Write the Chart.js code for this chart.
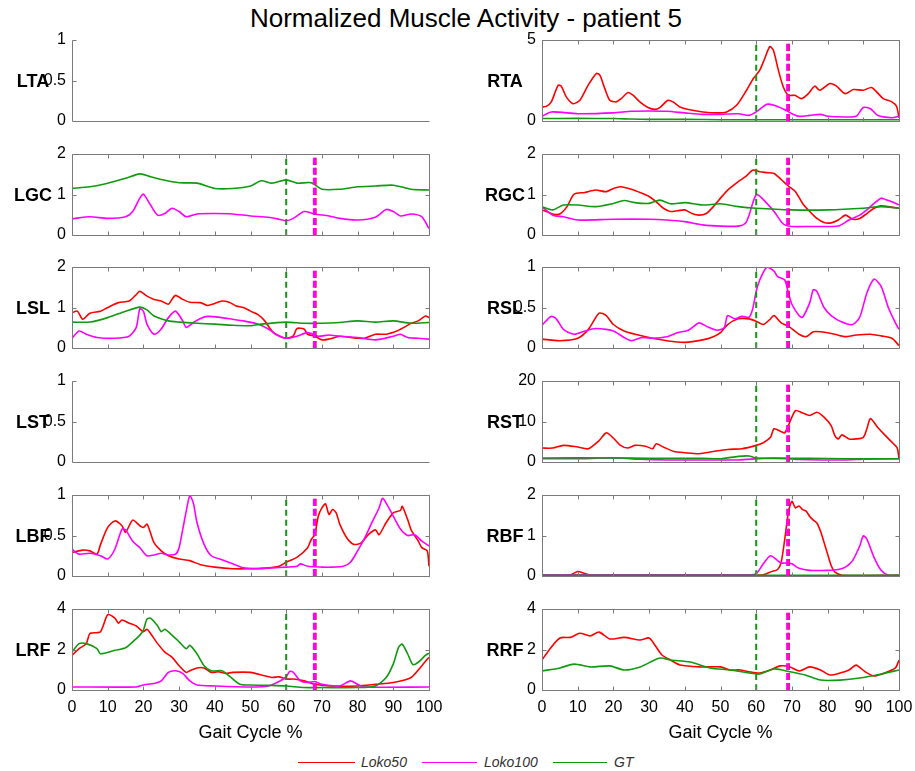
<!DOCTYPE html>
<html><head><meta charset="utf-8">
<script src="https://cdn.jsdelivr.net/npm/chart.js@4/dist/chart.umd.min.js"></script>
<style>
html,body{margin:0;padding:0;background:#fff;}
body{width:915px;height:771px;position:relative;overflow:hidden;font-family:"Liberation Sans",Arial,sans-serif;}
canvas{position:absolute;}
.ylab{position:absolute;font-weight:bold;font-size:18px;color:#000;width:60px;text-align:center;line-height:20px;}
#title{position:absolute;left:116px;width:700px;top:3px;text-align:center;font-size:26px;color:#000;}
.lgl{position:absolute;height:1px;}
.lgt{position:absolute;font-style:italic;font-size:14px;color:#333;line-height:16px;}
</style></head>
<body>
<div id="title">Normalized Muscle Activity - patient 5</div>
<div class="lgl" style="left:298px;top:762px;width:57px;background:#ff0000"></div>
<div class="lgt" style="left:361px;top:754px">Loko50</div>
<div class="lgl" style="left:422px;top:762px;width:55px;background:#ff00ff"></div>
<div class="lgt" style="left:484px;top:754px">Loko100</div>
<div class="lgl" style="left:553px;top:762px;width:54px;background:#109a10"></div>
<div class="lgt" style="left:614px;top:754px">GT</div>
<script>
// ---------------- data (x = gait cycle %, y = normalized activity) ----------------
const xTicks = [0,10,20,30,40,50,60,70,80,90,100];
const toeOffGT = 60;
const toeOffLeft = 67.9;
const toeOffRight = 68.8;

const RTA_Loko50 = [[0,0.87],[1.2,0.9],[2.6,1.18],[4.5,2.2],[5.4,2.15],[6.8,1.49],[8.7,1.07],[10.6,1.28],[12.9,2.2],[15.2,2.93],[16.2,2.83],[17.6,2.0],[19,1.28],[20.8,1.18],[22.2,1.38],[24.1,1.76],[25.5,1.59],[27.4,1.18],[29.7,0.83],[31.6,0.72],[33,0.83],[35.3,1.28],[36.7,1.18],[38.6,0.87],[41.4,0.7],[45.1,0.56],[48.9,0.5],[51.7,0.56],[54.5,0.97],[57.3,1.9],[59.2,2.62],[61,3.14],[62.4,3.86],[63.8,4.59],[64.8,4.38],[66.2,3.14],[67.6,2.1],[69,1.59],[70.8,1.59],[72.7,1.38],[74.6,1.69],[76.4,2.15],[77.8,1.9],[80.7,2.31],[82.5,2.15],[84.9,1.69],[87.2,1.94],[90,1.9],[92.3,2.07],[94.2,1.69],[95.6,1.38],[98,1.18],[99.3,0.91],[100,0.2]];
const RTA_Loko100 = [[0,0.29],[2.6,0.56],[10,0.45],[20,0.5],[25,0.6],[30,0.62],[35,0.6],[40,0.5],[45,0.41],[50,0.41],[55,0.45],[58,0.35],[60,0.56],[63,1.03],[65,0.97],[68,0.7],[70,0.45],[72,0.29],[75,0.35],[78,0.41],[80,0.29],[85,0.25],[88,0.29],[90,0.83],[92,0.76],[94,0.35],[98,0.2],[100,0.29]];
const RTA_GT = [[0,0.15],[10,0.16],[20,0.15],[25,0.12],[30,0.1],[40,0.1],[50,0.08],[60,0.08],[70,0.08],[80,0.08],[90,0.08],[100,0.08]];

const LGC_Loko100 = [[0,0.4],[5,0.45],[10,0.41],[15,0.45],[17,0.58],[19,0.91],[20,1.01],[22,0.74],[24,0.49],[26,0.53],[28,0.66],[30,0.58],[32,0.45],[35,0.52],[40,0.53],[45,0.52],[50,0.47],[55,0.44],[58,0.39],[60,0.35],[62,0.41],[65,0.58],[68,0.52],[72,0.47],[75,0.41],[80,0.37],[85,0.44],[88,0.63],[90,0.58],[92,0.47],[95,0.52],[98,0.45],[100,0.16]];
const LGC_GT = [[0,1.15],[5,1.19],[10,1.28],[15,1.4],[19,1.51],[22,1.44],[25,1.37],[30,1.29],[35,1.28],[40,1.15],[45,1.15],[50,1.21],[53,1.34],[56,1.28],[60,1.36],[63,1.28],[67,1.29],[70,1.13],[75,1.13],[80,1.19],[85,1.21],[90,1.23],[95,1.13],[100,1.11]];

const RGC_Loko50 = [[0,0.62],[3,0.52],[5,0.52],[7,0.7],[9,1.01],[12,1.05],[15,1.11],[18,1.07],[20,1.15],[22,1.19],[25,1.13],[28,1.03],[30,0.95],[32,0.82],[34,0.66],[36,0.58],[38,0.6],[40,0.62],[42,0.53],[44,0.49],[46,0.53],[48,0.7],[50,0.91],[52,1.11],[55,1.32],[57,1.44],[59,1.6],[61,1.56],[63,1.54],[65,1.52],[67,1.37],[69,1.21],[71,1.07],[73,0.78],[75,0.58],[77,0.41],[79,0.31],[81,0.3],[83,0.37],[85,0.49],[87,0.39],[89,0.41],[91,0.53],[93,0.66],[95,0.72],[97,0.7],[100,0.66]];
const RGC_Loko100 = [[0,0.7],[3,0.49],[6,0.45],[10,0.37],[20,0.39],[30,0.39],[35,0.37],[40,0.33],[45,0.25],[50,0.22],[55,0.22],[57,0.29],[58,0.49],[59,0.78],[60,0.99],[61,0.96],[63,0.78],[65,0.58],[67,0.33],[68,0.25],[70,0.21],[75,0.21],[80,0.21],[83,0.22],[86,0.37],[89,0.49],[91,0.62],[93,0.78],[95,0.91],[96,0.88],[98,0.82],[100,0.74]];
const RGC_GT = [[0,0.7],[3,0.62],[6,0.74],[10,0.74],[15,0.7],[20,0.78],[23,0.85],[26,0.8],[30,0.78],[33,0.86],[36,0.77],[40,0.8],[45,0.74],[50,0.77],[55,0.7],[60,0.66],[70,0.62],[80,0.62],[90,0.66],[95,0.7],[100,0.66]];

const LSL_Loko50 = [[0,0.87],[1.5,0.91],[3,0.71],[5,0.86],[8,0.91],[10,1.0],[13,1.12],[16,1.16],[18,1.32],[19,1.4],[21,1.28],[23,1.2],[25,1.16],[27,1.08],[28,1.2],[29,1.3],[31,1.2],[33,1.13],[36,1.12],[38,1.05],[40,1.1],[42,1.16],[44,1.13],[46,1.04],[48,1.0],[50,0.91],[52,0.83],[54,0.67],[56,0.42],[58,0.3],[60,0.24],[62,0.3],[63,0.48],[65,0.47],[66,0.34],[68,0.29],[70,0.2],[72,0.22],[75,0.29],[78,0.26],[80,0.24],[82,0.24],[85,0.34],[88,0.34],[91,0.42],[93,0.51],[95,0.61],[97,0.67],[99,0.79],[100,0.75]];
const LSL_Loko100 = [[0,0.24],[2,0.42],[4,0.34],[7,0.26],[12,0.24],[16,0.29],[18,0.51],[19,0.97],[20,0.91],[21,0.59],[23,0.34],[25,0.47],[27,0.75],[29,0.91],[31,0.67],[32,0.51],[34,0.63],[36,0.73],[38,0.78],[42,0.75],[45,0.71],[48,0.67],[52,0.59],[55,0.47],[57,0.34],[60,0.24],[63,0.29],[66,0.38],[69,0.29],[72,0.32],[75,0.29],[80,0.26],[85,0.2],[90,0.29],[92,0.34],[94,0.26],[97,0.24],[100,0.22]];
const LSL_GT = [[0,0.64],[5,0.64],[10,0.75],[15,0.91],[19,1.01],[21,0.94],[23,0.79],[27,0.67],[30,0.64],[35,0.61],[40,0.59],[45,0.56],[50,0.55],[53,0.59],[60,0.64],[65,0.61],[70,0.61],[75,0.63],[80,0.67],[85,0.64],[90,0.67],[95,0.61],[100,0.63]];

const RSL_Loko50 = [[0,0.11],[5,0.09],[10,0.12],[13,0.23],[16,0.43],[18,0.4],[20,0.29],[23,0.21],[27,0.16],[30,0.13],[35,0.09],[40,0.07],[45,0.1],[48,0.14],[50,0.19],[52,0.29],[55,0.36],[58,0.36],[60,0.33],[62,0.29],[64,0.36],[65,0.4],[67,0.31],[69,0.27],[72,0.17],[74,0.14],[76,0.2],[78,0.2],[82,0.17],[85,0.14],[88,0.16],[92,0.17],[95,0.15],[98,0.12],[100,0.03]];
const RSL_Loko100 = [[0,0.28],[2.5,0.39],[4,0.36],[6,0.23],[9,0.17],[12,0.21],[15,0.24],[18,0.23],[20,0.21],[23,0.13],[25,0.09],[28,0.13],[31,0.12],[35,0.14],[38,0.19],[41,0.22],[44,0.31],[46,0.27],[49,0.22],[51,0.25],[52,0.4],[54,0.36],[56,0.39],[58,0.38],[59,0.48],[60,0.7],[61,0.84],[63,1.0],[65,0.95],[66,0.88],[68,0.84],[69,0.68],[70,0.54],[72,0.4],[73,0.38],[75,0.56],[76,0.72],[77,0.7],[79,0.5],[81,0.4],[84,0.32],[87,0.29],[89,0.38],[91,0.68],[93,0.85],[95,0.76],[97,0.5],[99,0.31],[100,0.23]];

const RST_Loko50 = [[0,3.44],[3,3.44],[6,4.1],[10,3.7],[13,3.28],[16,5.3],[18,7.2],[20,5.9],[22,4.1],[24,3.44],[26,4.1],[29,3.9],[31,3.28],[32,4.5],[34,3.7],[37,2.6],[40,2.3],[44,2.05],[48,2.6],[52,3.1],[56,3.28],[60,4.1],[62,4.75],[64,6.1],[65,8.2],[67,7.5],[68,7.2],[69,9.0],[71,12.7],[73,12.1],[75,11.5],[77,12.3],[79,11.1],[81,9.0],[82,6.6],[83,5.7],[84,6.7],[86,5.7],[88,5.7],[90,6.1],[91,8.2],[92,10.7],[94,8.6],[96,6.7],[98,4.9],[99.5,3.44],[100,0.8]];
const RST_Loko100 = [[0,0.8],[10,0.8],[17,1.0],[22,1.0],[27,0.7],[35,0.5],[45,0.5],[55,0.5],[62,0.9],[68,0.9],[72,0.6],[80,0.5],[85,0.5],[90,0.7],[100,0.8]];
const RST_GT = [[0,1.0],[20,1.0],[30,0.9],[45,0.9],[50,0.8],[55,1.4],[58,1.5],[60,1.0],[68,0.9],[75,0.9],[85,0.8],[100,0.8]];

const LBF_Loko50 = [[0,0.29],[3,0.32],[5,0.31],[7,0.27],[8,0.39],[10,0.6],[12,0.68],[14,0.62],[15,0.54],[17,0.69],[19,0.62],[20,0.6],[21,0.64],[22,0.53],[23,0.41],[25,0.31],[27,0.25],[30,0.21],[33,0.19],[36,0.14],[40,0.11],[45,0.09],[50,0.09],[55,0.1],[58,0.12],[60,0.17],[63,0.23],[66,0.35],[67,0.45],[68,0.51],[69,0.74],[70,0.84],[71,0.89],[72,0.76],[73,0.82],[74,0.78],[75,0.64],[77,0.47],[79,0.39],[81,0.41],[83,0.51],[85,0.57],[86,0.51],[88,0.66],[90,0.78],[92,0.81],[92.5,0.86],[94,0.7],[95,0.57],[97,0.43],[98,0.35],[99.5,0.31],[100,0.12]];
const LBF_Loko100 = [[0,0.33],[2,0.27],[5,0.28],[8,0.25],[10,0.21],[12,0.33],[14,0.58],[15,0.57],[17,0.43],[19,0.35],[21,0.25],[23,0.26],[25,0.28],[27,0.26],[29,0.27],[30,0.35],[31,0.57],[32,0.8],[33,0.99],[34,0.9],[35,0.66],[37,0.39],[39,0.25],[42,0.2],[45,0.15],[48,0.1],[52,0.09],[56,0.1],[60,0.11],[63,0.12],[64,0.15],[66,0.12],[70,0.11],[73,0.11],[76,0.12],[78,0.17],[80,0.31],[82,0.47],[84,0.66],[86,0.84],[87,0.96],[88,0.9],[90,0.74],[92,0.58],[94,0.5],[96,0.51],[98,0.43],[100,0.37]];

const RBF_Loko50 = [[0,0.02],[8,0.03],[10,0.11],[12,0.06],[14,0.02],[30,0.02],[60,0.02],[62,0.03],[64,0.1],[66,0.16],[67,0.34],[68,0.91],[69,1.55],[70,1.84],[71,1.68],[72,1.73],[73,1.64],[74,1.6],[75,1.47],[76,1.38],[77,1.31],[78,1.11],[79,0.83],[80,0.54],[81,0.26],[82,0.1],[84,0.02],[100,0.02]];
const RBF_Loko100 = [[0,0.03],[30,0.03],[58,0.03],[60,0.06],[62,0.3],[64,0.5],[66,0.38],[67,0.32],[68,0.32],[70,0.3],[72,0.19],[75,0.14],[80,0.14],[83,0.16],[85,0.22],[87,0.38],[89,0.74],[90,0.99],[91,0.91],[93,0.46],[95,0.14],[97,0.02],[100,0.02]];
const RBF_GT = [[0,0.02],[50,0.02],[100,0.02]];

const LRF_Loko50 = [[0,1.71],[2,2.04],[4,2.29],[5,2.79],[7,2.83],[8,2.88],[9,3.3],[10,3.72],[12,3.55],[13,3.3],[14,3.46],[16,3.3],[18,3.16],[20,2.88],[21,3.0],[22,2.79],[24,2.29],[26,1.87],[28,1.62],[30,1.2],[32,0.87],[33,0.95],[35,1.09],[37,1.09],[39,0.87],[41,0.9],[43,0.82],[45,0.87],[50,0.87],[54,0.7],[56,0.62],[58,0.65],[60,0.54],[62,0.54],[65,0.45],[68,0.28],[72,0.2],[80,0.2],[85,0.28],[90,0.37],[95,0.62],[98,1.2],[100,1.62]];
const LRF_Loko100 = [[0,0.15],[18,0.15],[20,0.25],[23,0.32],[25,0.45],[27,0.87],[29,0.95],[31,0.82],[33,0.45],[35,0.25],[40,0.2],[50,0.15],[55,0.2],[58,0.42],[60,0.65],[61,0.92],[62,0.87],[64,0.45],[66,0.37],[68,0.42],[70,0.28],[75,0.2],[78,0.45],[80,0.28],[82,0.15],[100,0.15]];
const LRF_GT = [[0,1.87],[2,2.29],[4,2.29],[7,2.04],[8,1.79],[12,1.96],[15,2.09],[17,2.38],[19,2.71],[20,2.96],[21,3.5],[22,3.55],[24,3.16],[25,2.88],[26,3.0],[28,2.71],[30,2.38],[32,2.04],[33,2.21],[35,1.79],[37,1.2],[39,0.95],[42,0.95],[44,0.7],[47,0.28],[50,0.25],[55,0.23],[60,0.2],[65,0.12],[70,0.12],[80,0.12],[85,0.2],[88,0.62],[90,1.29],[91.5,2.12],[92.5,2.26],[94,1.79],[95.5,1.25],[97,1.37],[99,1.71],[100,1.82]];

const RRF_Loko50 = [[0,1.48],[2,1.98],[5,2.57],[8,2.6],[10.6,2.8],[13.5,2.67],[16,2.86],[19,2.52],[23,2.6],[27.5,2.47],[30,2.57],[31.7,2.2],[33.6,1.73],[36,1.48],[38.7,1.23],[44,1.14],[50,1.14],[52.7,0.99],[55.5,0.99],[58,0.9],[61,0.84],[64,0.99],[66.7,1.19],[69.5,1.14],[72,0.94],[75,1.14],[78,0.99],[80.7,0.74],[83.5,0.84],[86,0.99],[88,1.23],[90.5,0.9],[93,0.69],[96,0.84],[99,1.09],[100,1.48]];
const RRF_GT = [[0,0.94],[5,1.09],[9,1.28],[13.5,1.14],[19,1.19],[23,0.99],[27.5,1.14],[33,1.58],[36,1.48],[41.5,1.38],[47,1.09],[52.7,0.99],[58,0.84],[61,0.79],[65,1.04],[69.5,0.9],[73.7,0.74],[78,0.49],[83.5,0.49],[89,0.59],[95,0.79],[100,0.99]];

// ---------------- layout / style ----------------
const RED = '#ff0000', MAG = '#ff00ff', GRN = '#109a10', AXC = '#7a7a7a';
const rowTops = [40,154,267,381,495,609];
const PLOT_H = 81;
const colLeft = [0,470];
const CANVAS_W = 445;
const PAD_TOP = 12;

const panels = [
  {name:'LTA',col:0,row:0,yMax:1,step:0.5,empty:true},
  {name:'RTA',col:1,row:0,yMax:5,step:5,loko50:RTA_Loko50,loko100:RTA_Loko100,gt:RTA_GT,toe:toeOffRight},
  {name:'LGC',col:0,row:1,yMax:2,step:1,loko100:LGC_Loko100,gt:LGC_GT,toe:toeOffLeft},
  {name:'RGC',col:1,row:1,yMax:2,step:1,loko50:RGC_Loko50,loko100:RGC_Loko100,gt:RGC_GT,toe:toeOffRight},
  {name:'LSL',col:0,row:2,yMax:2,step:1,loko50:LSL_Loko50,loko100:LSL_Loko100,gt:LSL_GT,toe:toeOffLeft},
  {name:'RSL',col:1,row:2,yMax:1,step:0.5,loko50:RSL_Loko50,loko100:RSL_Loko100,toe:toeOffRight},
  {name:'LST',col:0,row:3,yMax:1,step:0.5,empty:true},
  {name:'RST',col:1,row:3,yMax:20,step:10,loko50:RST_Loko50,loko100:RST_Loko100,gt:RST_GT,toe:toeOffRight},
  {name:'LBF',col:0,row:4,yMax:1,step:0.5,loko50:LBF_Loko50,loko100:LBF_Loko100,toe:toeOffLeft},
  {name:'RBF',col:1,row:4,yMax:2,step:1,loko50:RBF_Loko50,loko100:RBF_Loko100,gt:RBF_GT,toe:toeOffRight},
  {name:'LRF',col:0,row:5,yMax:4,step:2,loko50:LRF_Loko50,loko100:LRF_Loko100,gt:LRF_GT,toe:toeOffLeft},
  {name:'RRF',col:1,row:5,yMax:4,step:2,loko50:RRF_Loko50,gt:RRF_GT,toe:toeOffRight}
];

const framePlugin = {
  id:'frame',
  afterDatasetsDraw(chart, args, opts){
    const {ctx, chartArea:a, scales} = chart;
    const xs = scales.x, ys = scales.y;
    const L = Math.round(a.left)+0.5, R = Math.round(a.right)+0.5, T = Math.round(a.top)+0.5, B = Math.round(a.bottom)+0.5;
    const tl = 4;
    ctx.save();
    ctx.strokeStyle = AXC; ctx.lineWidth = 1;
    ctx.beginPath();
    if (opts.empty){
      ctx.moveTo(L,T); ctx.lineTo(L,B); ctx.lineTo(R,B);
      ys.ticks.forEach(t=>{ const py=Math.round(ys.getPixelForValue(t.value))+0.5; if (py<B-1){ctx.moveTo(L,py); ctx.lineTo(L+tl,py);} });
    } else {
      ctx.rect(L,T,R-L,B-T);
      xTicks.forEach(v=>{ const px=Math.round(xs.getPixelForValue(v))+0.5; ctx.moveTo(px,B); ctx.lineTo(px,B-tl); ctx.moveTo(px,T); ctx.lineTo(px,T+tl); });
      ys.ticks.forEach(t=>{ const py=Math.round(ys.getPixelForValue(t.value))+0.5; ctx.moveTo(L,py); ctx.lineTo(L+tl,py); ctx.moveTo(R,py); ctx.lineTo(R-tl,py); });
    }
    ctx.stroke();
    ctx.restore();
  }
};

const toXY = arr => arr.map(p=>({x:p[0],y:p[1]}));

panels.forEach(p=>{
  const isBottom = p.row === 5;
  const top = rowTops[p.row] - PAD_TOP;
  const xAxisH = isBottom ? 52 : 0;
  const padBottom = isBottom ? 0 : 12;
  const h = PAD_TOP + PLOT_H + xAxisH + padBottom;
  const cv = document.createElement('canvas');
  cv.width = CANVAS_W; cv.height = h;
  cv.style.left = colLeft[p.col]+'px'; cv.style.top = top+'px';
  cv.style.width = CANVAS_W+'px'; cv.style.height = h+'px';
  document.body.appendChild(cv);

  const lab = document.createElement('div');
  lab.className='ylab'; lab.textContent = p.name;
  lab.style.left = (p.col===0 ? 3 : 475)+'px';
  lab.style.top = (rowTops[p.row] + PLOT_H/2 - 10)+'px';
  document.body.appendChild(lab);

  const ds = [];
  if (!p.empty){
    ds.push({data:[{x:p.toe,y:0},{x:p.toe,y:p.yMax}],borderColor:MAG,borderWidth:3,borderDash:[7,3]});
    ds.push({data:[{x:p.toe+0.35,y:0},{x:p.toe+0.35,y:p.yMax}],borderColor:RED,borderWidth:2,borderDash:[7,3]});
    ds.push({data:[{x:toeOffGT,y:0},{x:toeOffGT,y:p.yMax}],borderColor:GRN,borderWidth:2,borderDash:[6,4]});
    if (p.gt) ds.push({data:toXY(p.gt),borderColor:GRN,borderWidth:1.6});
    if (p.loko100) ds.push({data:toXY(p.loko100),borderColor:MAG,borderWidth:1.6});
    if (p.loko50) ds.push({data:toXY(p.loko50),borderColor:RED,borderWidth:1.6});
  }
  ds.forEach(d=>{ d.pointRadius=0; d.tension=0.25; d.fill=false; });

  new Chart(cv, {
    type:'line',
    data:{datasets:ds},
    options:{
      responsive:false, animation:false, devicePixelRatio:1,
      layout:{padding:{left:0,right:16,top:PAD_TOP,bottom:padBottom}},
      plugins:{legend:{display:false},tooltip:{enabled:false},frame:{empty:!!p.empty}},
      scales:{
        x:{type:'linear',min:0,max:100,display:isBottom,
           grid:{display:false,drawTicks:true,tickLength:8},border:{display:false},
           ticks:{stepSize:10,padding:0,color:'#000',font:{family:'"Liberation Sans",Arial',size:16},maxRotation:0,autoSkip:false},
           title:{display:isBottom,text:'Gait Cycle %',color:'#000',font:{family:'"Liberation Sans",Arial',size:18,lineHeight:1},padding:{top:0,bottom:0}},
           afterFit(s){ s.height = xAxisH; }},
        y:{type:'linear',min:0,max:p.yMax,
           grid:{display:false,drawTicks:true,tickLength:6},border:{display:false},
           ticks:{stepSize:p.step,padding:0,color:'#000',font:{family:'"Liberation Sans",Arial',size:16},callback:v=>String(v)},
           afterFit(s){ s.width = 72; }}
      }
    },
    plugins:[framePlugin]
  });
});
</script>
</body></html>
